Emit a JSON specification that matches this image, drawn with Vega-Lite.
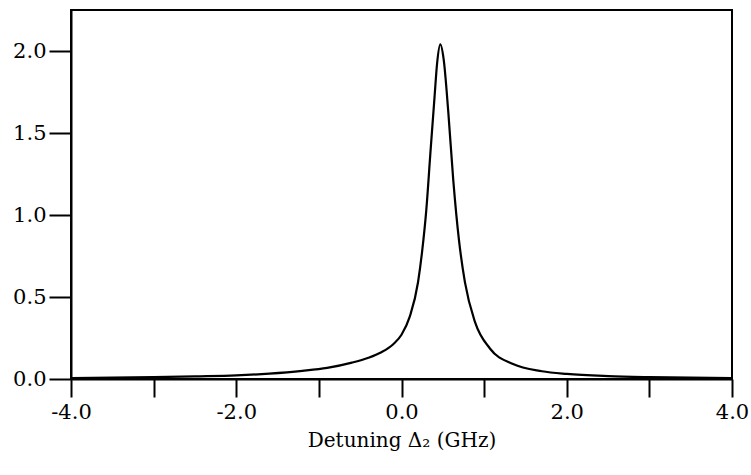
{
  "$schema": "https://vega.github.io/schema/vega-lite/v6.json",
  "width": 661,
  "height": 369,
  "autosize": {"type": "none"},
  "padding": {"left": 71, "top": 10, "right": 19, "bottom": 96},
  "background": "white",
  "config": {
    "view": {"stroke": "black", "strokeWidth": 2},
    "axis": {
      "labelFont": "DejaVu Serif",
      "titleFont": "DejaVu Serif",
      "labelFontSize": 21,
      "titleFontSize": 20,
      "titleFontWeight": "normal",
      "labelColor": "black",
      "titleColor": "black",
      "domainColor": "black",
      "domainWidth": 2,
      "tickColor": "black",
      "tickWidth": 2,
      "grid": false
    }
  },
  "data": {
    "values": [
      {"x": -4.0, "y": 0.006},
      {"x": -3.5, "y": 0.008},
      {"x": -3.0, "y": 0.011},
      {"x": -2.5, "y": 0.016},
      {"x": -2.0, "y": 0.022},
      {"x": -1.6, "y": 0.033},
      {"x": -1.2, "y": 0.050},
      {"x": -0.9, "y": 0.068},
      {"x": -0.6, "y": 0.100},
      {"x": -0.4, "y": 0.130},
      {"x": -0.25, "y": 0.162},
      {"x": -0.1, "y": 0.212},
      {"x": 0.0, "y": 0.27},
      {"x": 0.1, "y": 0.38},
      {"x": 0.2, "y": 0.59},
      {"x": 0.25, "y": 0.78},
      {"x": 0.3, "y": 1.03},
      {"x": 0.35, "y": 1.38},
      {"x": 0.4, "y": 1.72},
      {"x": 0.43, "y": 1.92},
      {"x": 0.47, "y": 2.04},
      {"x": 0.51, "y": 1.95},
      {"x": 0.566, "y": 1.63},
      {"x": 0.627, "y": 1.21},
      {"x": 0.696, "y": 0.845},
      {"x": 0.768, "y": 0.589},
      {"x": 0.89, "y": 0.347},
      {"x": 1.07, "y": 0.186},
      {"x": 1.35, "y": 0.091},
      {"x": 1.7, "y": 0.0475},
      {"x": 2.0, "y": 0.031},
      {"x": 2.5, "y": 0.0177},
      {"x": 3.0, "y": 0.0115},
      {"x": 3.5, "y": 0.008},
      {"x": 4.0, "y": 0.0059}
    ]
  },
  "mark": {"type": "line", "color": "black", "strokeWidth": 2.2, "interpolate": "monotone"},
  "encoding": {
    "x": {
      "field": "x",
      "type": "quantitative",
      "scale": {"domain": [-4, 4], "nice": false, "zero": false},
      "axis": {
        "title": "Detuning Δ₂ (GHz)",
        "values": [-4, -3, -2, -1, 0, 1, 2, 3, 4],
        "labelExpr": "datum.value % 2 == 0 ? (datum.value < 0 ? '-' : '') + format(abs(datum.value), '.1f') : ''",
        "tickSize": 18,
        "labelPadding": 4,
        "titlePadding": 8,
        "labelFlush": false
      }
    },
    "y": {
      "field": "y",
      "type": "quantitative",
      "scale": {"domain": [0, 2.25], "nice": false},
      "axis": {
        "title": null,
        "values": [0, 0.5, 1.0, 1.5, 2.0],
        "format": ".1f",
        "tickSize": 22,
        "labelPadding": 3,
        "labelFlush": false
      }
    }
  }
}
